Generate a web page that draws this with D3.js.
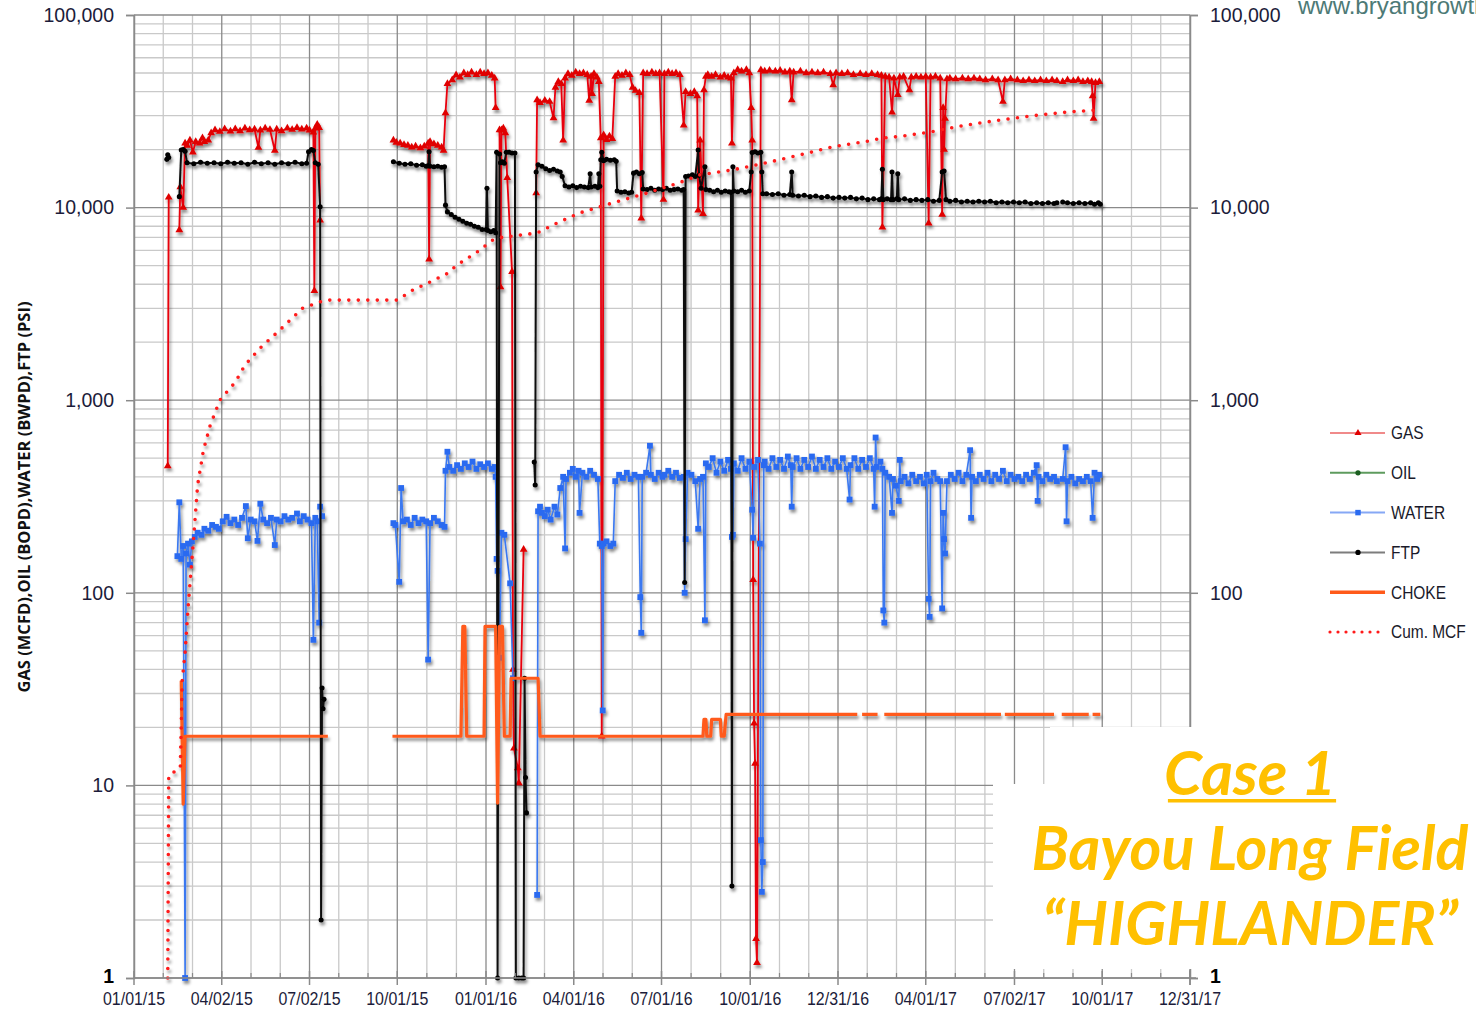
<!DOCTYPE html>
<html><head><meta charset="utf-8">
<script src="https://cdn.jsdelivr.net/npm/d3@7"></script>
<style>body{margin:0;background:#fff}svg{display:block}</style>
</head><body>
<svg id="chart" width="1476" height="1010"></svg>
<script>
// ---------------- DATA ----------------
// day = days after 01/01/15 (first tick of the date axis)
const START = "2015-01-01";
const xTickLabels = ["01/01/15","04/02/15","07/02/15","10/01/15","01/01/16","04/01/16","07/01/16","10/01/16","12/31/16","04/01/17","07/02/17","10/01/17","12/31/17"];
const yTickValues = [1,10,100,1000,10000,100000];
const rightTickValues = [1,100,1000,10000,100000];   // "10" is hidden behind the caption box
const legendNames = ["GAS","OIL","WATER","FTP","CHOKE","Cum. MCF"];

const gasData = [[35,455],[36,11300],[37,null],
[47,7650],[48,12800],[51,10000],[53,21600],[55,21000],[58,22400],[61,19400],[64,22000],[68,21600],[71,23000],[73,22000],[77,22400],[80,24400],[84,25300],[89,24800],[94,25600],[100,24900],[105,25600],[110,25000],[115,25800],[120,25300],[125,25500],[129,20500],[131,25200],[136,25800],[141,25400],[146,19800],[148,25500],[153,25000],[159,25800],[164,25400],[169,26000],[174,25500],[179,25800],[182,25200],[186,24600],[187,3700],[188,25800],[190,27000],[192,26000],[193,8600],[194,null],
[269,22400],[272,21800],[276,21600],[280,21200],[284,21000],[288,20600],[292,20800],[297,20400],[301,20800],[305,21600],[306,5400],[307,22000],[311,21400],[315,21000],[319,20600],[321,19800],[323,31000],[325,44000],[330,46000],[334,48800],[338,47500],[342,50000],[346,49000],[350,50500],[355,49000],[359,50500],[363,49500],[367,50000],[371,48500],[374,47000],[375,33000],[376,null],
[379,25300],[380,3870],[381,25300],[383,25800],[385,24400],[387,14300],[392,4650],[393,40],[394,15.6],[398,12.3],[399,10.3],[404,168],[405,null],
[417,11900],[418,36200],[421,35000],[426,36000],[431,35500],[435,29200],[437,42000],[440,45000],[443,44000],[445,22400],[447,47000],[450,49500],[454,48500],[458,50500],[462,49500],[466,50000],[470,49000],[472,36000],[474,48000],[475,39000],[477,49500],[480,47500],[482,45000],[484,23000],[485,18],[487,23800],[490,22500],[493,23500],[496,22800],[499,48000],[502,49500],[506,48500],[510,50000],[514,49000],[517,42000],[520,40500],[524,39500],[526,8800],[528,50000],[532,49500],[537,50500],[541,49500],[545,50000],[549,11000],[550,49500],[554,50500],[558,49500],[562,50000],[566,49000],[570,26800],[572,40000],[577,39000],[581,40000],[584,38000],[585,9700],[587,22400],[590,9300],[591,40800],[593,48000],[595,49000],[599,48000],[603,49000],[608,47500],[612,48500],[616,47500],[619,47000],[620,21600],[622,50000],[626,52000],[630,51000],[635,52000],[638,50000],[640,33000],[641,22400],[642,117],[643,21],[644,13],[645,1.6],[646,1.2],[650,51800],[654,51000],[659,51500],[665,51000],[670,51500],[675,50500],[680,51000],[682,36200],[684,50500],[691,51000],[697,50000],[703,50500],[709,50000],[715,50500],[722,49500],[725,43300],[728,50000],[734,49500],[740,50000],[746,49000],[753,49500],[759,49000],[765,49500],[771,49000],[775,48500],[776,7900],[779,48000],[783,47500],[786,31300],[788,47000],[792,38500],[794,47500],[798,48000],[804,40800],[806,47500],[811,48000],[816,47500],[821,48000],[824,8300],[826,47500],[831,48000],[836,47000],[838,9200],[839,33000],[840,20000],[841,29000],[843,46500],[846,47000],[852,46500],[859,47000],[865,46500],[871,47000],[877,46500],[883,46000],[890,46500],[896,46000],[901,35500],[903,46000],[909,46500],[916,46000],[922,45500],[928,46000],[934,45500],[940,46000],[946,45500],[952,46000],[957,45500],[958,null],
[963,45000],[968,46000],[974,45500],[979,46000],[984,45000],[989,45500],[993,45000],[994,38000],[995,29000],[997,44500],[1001,45000]];

const oilData = [];

const waterData = [[45,155],[47,295],[49,150],[51,175],[53,1],[54,160],[56,180],[58,140],[60,185],[63,195],[66,205],[70,200],[73,215],[77,210],[81,225],[85,220],[88,215],[92,235],[96,248],[100,230],[104,240],[108,225],[112,245],[116,282],[118,192],[121,240],[125,235],[128,186],[131,290],[134,240],[138,230],[142,245],[146,177],[148,240],[152,235],[156,250],[160,240],[164,245],[169,258],[172,235],[176,250],[180,240],[184,230],[186,57],[188,245],[190,235],[192,70],[193,280],[195,250],[196,null],
[269,230],[271,225],[275,114],[277,350],[279,235],[283,240],[287,225],[291,245],[295,230],[299,240],[303,235],[305,45],[307,230],[311,245],[315,235],[319,225],[322,220],[323,430],[325,540],[327,450],[331,430],[335,460],[339,440],[343,470],[347,450],[351,480],[355,440],[359,465],[363,450],[367,470],[371,440],[374,450],[375,400],[376,150],[377,130],[379,46],[381,205],[384,200],[390,112],[393,36],[394,null],
[418,2.7],[419,265],[421,280],[423,260],[426,250],[429,270],[432,240],[436,280],[439,255],[442,350],[445,400],[447,170],[448,390],[452,420],[455,440],[458,400],[461,430],[462,260],[465,420],[469,400],[473,430],[477,410],[481,390],[483,180],[485,175],[486,24.5],[487,180],[490,185],[494,175],[497,180],[499,380],[503,410],[507,395],[511,420],[515,390],[519,410],[523,400],[525,95],[526,62],[527,400],[531,420],[535,580],[536,410],[540,390],[544,420],[548,400],[550,410],[554,430],[558,400],[562,420],[566,395],[570,400],[571,100],[572,190],[574,420],[578,410],[582,380],[585,215],[587,390],[590,400],[592,72],[593,470],[596,450],[600,500],[604,420],[608,480],[612,430],[616,490],[619,440],[620,195],[621,200],[622,470],[626,430],[630,500],[634,440],[638,480],[641,270],[642,193],[643,450],[647,490],[649,180],[650,5.2],[651,2.8],[652,4.0],[653,460],[654,480],[658,440],[662,500],[666,450],[670,490],[674,440],[678,510],[681,460],[682,280],[683,450],[687,500],[691,440],[695,490],[699,450],[703,510],[707,440],[711,490],[715,450],[719,500],[723,440],[727,480],[731,450],[735,500],[739,440],[742,305],[743,460],[747,500],[751,440],[755,490],[759,450],[763,500],[767,440],[768,280],[769,640],[770,450],[774,480],[776,440],[777,81],[778,70],[779,420],[783,400],[786,260],[787,390],[790,360],[793,300],[794,490],[795,380],[799,400],[803,370],[807,410],[811,380],[815,400],[819,370],[822,410],[824,93],[825,75],[826,380],[829,420],[833,390],[836,380],[838,83],[839,260],[840,190],[841,160],[843,380],[847,410],[851,390],[855,420],[859,380],[863,410],[867,550],[868,245],[869,400],[873,380],[877,410],[881,390],[885,420],[889,380],[893,410],[897,390],[901,430],[905,380],[909,410],[913,390],[917,400],[921,380],[925,410],[929,390],[933,420],[936,460],[937,300],[938,400],[942,380],[946,410],[950,390],[954,400],[957,380],[958,null],
[963,390],[966,570],[967,235],[968,380],[972,400],[976,370],[980,390],[984,380],[988,400],[992,380],[994,245],[996,420],[999,390],[1001,410]];

const ftpData = [[34,17800],[35,18800],[36,18200],[37,null],
[47,11400],[49,19900],[51,20000],[53,19600],[55,17100],[62,16900],[69,17200],[76,17000],[83,17100],[90,16900],[97,17200],[104,17000],[111,17100],[118,16800],[125,17200],[132,16900],[139,17100],[146,16800],[153,17100],[160,16900],[167,17200],[174,16900],[179,17000],[181,19500],[184,20000],[186,19800],[188,17100],[191,16800],[193,10100],[194,2.0],[195,32],[196,25],[197,28],[198,null],
[269,17300],[275,17000],[281,16800],[287,16900],[293,16600],[299,16700],[303,16400],[305,16500],[306,19500],[307,16400],[311,16300],[315,16400],[319,16200],[322,16300],[323,10300],[325,9500],[329,9200],[333,8900],[337,8700],[341,8500],[345,8300],[349,8200],[353,8000],[357,7900],[361,7700],[365,7700],[366,12600],[367,7600],[370,7500],[373,7600],[375,7400],[376,19400],[377,1],[379,19000],[380,17100],[382,17300],[384,17000],[386,19400],[389,19400],[392,19200],[395,19200],[396,1],[399,1],[402,1],[404,1],[405,36],[406,11],[407,7.2],[408,null],
[415,477],[416,363],[417,15300],[419,16700],[423,16400],[427,15900],[431,15600],[435,15800],[439,15500],[442,15300],[444,14500],[447,13000],[451,12800],[455,13000],[459,12700],[463,12900],[467,12800],[471,12700],[473,15000],[474,12800],[478,12900],[481,12700],[482,15000],[483,12900],[484,17700],[485,19400],[487,17500],[490,17800],[494,17600],[498,17700],[500,17400],[501,12200],[505,12000],[509,12100],[513,11900],[516,12000],[518,15100],[521,15300],[524,15000],[527,15200],[528,12500],[532,12400],[536,12600],[540,12300],[544,12500],[548,12400],[552,12600],[556,12300],[560,12400],[564,12500],[568,12300],[570,12400],[571,113],[572,14500],[575,14600],[579,14800],[582,14500],[585,19900],[586,14700],[588,12600],[592,16300],[593,12400],[597,12300],[601,12100],[605,12300],[609,12000],[613,12200],[617,12100],[619,12000],[620,3.0],[621,16300],[622,12200],[626,12100],[630,12300],[634,12000],[638,12200],[640,15300],[641,19300],[644,19500],[647,19200],[650,19400],[651,15300],[652,11800],[656,11800],[662,11700],[668,11800],[674,11600],[680,11700],[682,15300],[683,11600],[689,11500],[695,11600],[701,11400],[707,11500],[713,11300],[719,11400],[725,11200],[731,11300],[737,11200],[743,11300],[749,11100],[755,11200],[761,11000],[767,11100],[773,11000],[775,11100],[776,15800],[777,11000],[781,11100],[785,11000],[786,15300],[787,11000],[791,11100],[792,15000],[793,11000],[799,11100],[805,10900],[811,11000],[817,10900],[823,11000],[829,10800],[835,10900],[838,15300],[840,15500],[842,11000],[846,10800],[852,10900],[858,10700],[864,10800],[870,10700],[876,10800],[882,10700],[888,10800],[894,10600],[900,10700],[906,10600],[912,10700],[918,10600],[924,10700],[930,10500],[936,10600],[942,10500],[948,10600],[954,10500],[957,10600],[958,null],
[963,10700],[968,10600],[974,10500],[980,10600],[986,10500],[992,10600],[996,10400],[1000,10600],[1002,10400]];

const chokeData = [[49,35],[51,8],[53,18],[201,18],[202,null],
[268,18],[339,18],[341,67],[343,67],[345,18],[363,18],[364,67],[375,67],[377,8.1],[379,67],[382,67],[384,18],[390,18],[391,36],[419,36],[421,18],[590,18],[591,22],[593,22],[594,18],[598,18],[599,22],[608,22],[609,18],[612,18],[614,23.4],[750,23.4],[751,null],[755,23.4],[771,23.4],[772,null],[778,23.4],[899,23.4],[900,null],[903,23.4],[954,23.4],[955,null],[962,23.4],[990,23.4],[991,null],[994,23.4],[1002,23.4]];

const cumData = [[35,1],[36,11.3],[48,12.3],[50,35],[53,49],[56,83],[60,148],[63,230],[66,363],[72,550],[79,740],[89,1000],[105,1240],[115,1520],[131,1870],[151,2310],[175,3010],[193,3240],[203,3310],[273,3310],[289,3730],[307,4110],[325,4550],[335,5040],[356,5890],[372,6790],[380,6990],[418,7380],[439,8330],[462,9380],[497,10600],[532,11900],[566,13500],[587,14800],[621,15700],[656,17100],[691,18800],[725,20700],[760,22100],[777,23000],[794,23400],[828,24800],[846,25900],[863,26800],[898,28500],[932,30000],[967,31300],[994,32000],[1001,32300]];

const annotationLines = ["Case 1","Bayou Long Field","\u201CHIGHLANDER\u201D"];
const watermark = "www.bryangrowth.com";
const yTitle = "GAS (MCFD),OIL (BOPD),WATER (BWPD),FTP (PSI)";

// ---------------- CHART ----------------
const svg = d3.select("#chart");
const W = 1476, H = 1010;
const L = 134, R = 1190, T = 15, B = 978;
const parseTick = d3.timeParse("%m/%d/%y");
const start = d3.timeParse("%Y-%m-%d")(START);
const toDate = d => d3.timeDay.offset(start, d);
const tickDates = xTickLabels.map(parseTick);
const x = d3.scaleTime().domain([tickDates[0], tickDates[tickDates.length-1]]).range([L, R]);
const y = d3.scaleLog().domain([1, 100000]).range([B, T]);
const FONT = "Liberation Sans, Arial, sans-serif";

const defs = svg.append("defs");
const f = defs.append("filter").attr("id","shadow").attr("filterUnits","userSpaceOnUse")
  .attr("x",0).attr("y",0).attr("width",W).attr("height",H);
f.append("feDropShadow").attr("dx",1.5).attr("dy",3).attr("stdDeviation",1.6)
  .attr("flood-color","#000").attr("flood-opacity",0.45);

svg.append("rect").attr("width",W).attr("height",H).attr("fill","#fff");

// grid
const grid = svg.append("g");
const minorY = [];
for (let k = 0; k < 5; k++) for (let m = 2; m <= 9; m++) minorY.push(m * Math.pow(10, k));
grid.selectAll(".hmin").data(minorY).join("line")
  .attr("x1",L).attr("x2",R).attr("y1",d=>y(d)).attr("y2",d=>y(d))
  .attr("stroke","#c9c9c9").attr("stroke-width",1.3);
const minorX = [];
for (let i = 0; i < tickDates.length-1; i++) {
  const a = x(tickDates[i]), b = x(tickDates[i+1]);
  minorX.push(a + (b-a)/3, a + 2*(b-a)/3);
}
grid.selectAll(".vmin").data(minorX).join("line")
  .attr("x1",d=>d).attr("x2",d=>d).attr("y1",T).attr("y2",B)
  .attr("stroke","#c9c9c9").attr("stroke-width",1.3);
grid.selectAll(".hmaj").data(yTickValues).join("line")
  .attr("x1",L).attr("x2",R).attr("y1",d=>y(d)).attr("y2",d=>y(d))
  .attr("stroke","#8a8a8a").attr("stroke-width",1.3);
grid.selectAll(".vmaj").data(tickDates).join("line")
  .attr("x1",d=>x(d)).attr("x2",d=>x(d)).attr("y1",T).attr("y2",B)
  .attr("stroke","#8a8a8a").attr("stroke-width",1.3);

// left / right axis
const axL = svg.append("g").attr("transform",`translate(${L},0)`)
  .call(d3.axisLeft(y).tickValues(yTickValues).tickFormat(d3.format(",")).tickSize(8).tickPadding(12));
const axR = svg.append("g").attr("transform",`translate(${R},0)`)
  .call(d3.axisRight(y).tickValues(rightTickValues).tickFormat(d3.format(",")).tickSize(8).tickPadding(12));
[axL, axR].forEach(a => {
  a.select(".domain").attr("stroke","#8a8a8a").attr("stroke-width",1.5);
  a.selectAll(".tick line").attr("stroke","#8a8a8a").attr("stroke-width",1.5);
  a.selectAll("text").attr("font-family",FONT).attr("font-size",19.5).attr("fill","#1c1c3a");
});
axL.selectAll(".tick").filter(d=>d===1).select("text").attr("dy","0.25em").attr("x",-20).attr("font-weight","bold").attr("fill","#000");
axR.selectAll(".tick").filter(d=>d===1).select("text").attr("dy","0.25em").attr("font-weight","bold").attr("fill","#000");

// series
const line = d3.line().defined(d=>d[1]!=null).x(d=>x(toDate(d[0]))).y(d=>y(d[1]));
const dataG = svg.append("g").attr("filter","url(#shadow)");
function drawSeries(data, color, width, symbol, size, mcolor) {
  const g = dataG.append("g");
  g.append("path").datum(data).attr("d",line).attr("fill","none")
    .attr("stroke",color).attr("stroke-width",width).attr("stroke-linejoin","round");
  if (symbol) {
    g.selectAll("path.m").data(data.filter(d=>d[1]!=null)).join("path").attr("class","m")
      .attr("transform",d=>`translate(${x(toDate(d[0]))},${y(d[1])})`)
      .attr("d",d3.symbol().type(symbol).size(size)).attr("fill",mcolor||color);
  }
  return g;
}
drawSeries(gasData, "#e8000b", 1.8, d3.symbolTriangle, 26, "#e00000");
drawSeries(oilData, "#2e7d32", 1.6, d3.symbolCircle, 18, "#1b5e20");
drawSeries(waterData, "#3a78f0", 1.6, d3.symbolSquare, 34, "#2a6af0");
drawSeries(ftpData, "#111", 2.0, d3.symbolCircle, 20, "#000");
drawSeries(chokeData, "#ff5a1a", 3.2, null);
dataG.append("path").datum(cumData).attr("d",line).attr("fill","none")
  .attr("stroke","#ff1a1a").attr("stroke-width",3.6).attr("stroke-linecap","round")
  .attr("stroke-dasharray","0 9.5");

// white caption boxes
svg.append("rect").attr("x",1050).attr("y",727).attr("width",W-1050).attr("height",242).attr("fill","#fff");
svg.append("rect").attr("x",993).attr("y",784).attr("width",W-993).attr("height",185).attr("fill","#fff");

// bottom axis
const axB = svg.append("g").attr("transform",`translate(0,${B})`);
axB.append("line").attr("x1",L).attr("x2",R+6).attr("stroke","#8a8a8a").attr("stroke-width",1.5);
axB.selectAll(".mt").data(tickDates).join("line")
  .attr("x1",d=>x(d)).attr("x2",d=>x(d)).attr("y1",-7).attr("y2",7).attr("stroke","#8a8a8a").attr("stroke-width",1.5);
axB.selectAll(".nt").data(minorX).join("line")
  .attr("x1",d=>d).attr("x2",d=>d).attr("y1",-5).attr("y2",0).attr("stroke","#8a8a8a").attr("stroke-width",1.2);
axB.selectAll("text").data(xTickLabels).join("text")
  .attr("transform",(d,i)=>`translate(${x(tickDates[i])},27) scale(0.84,1)`).attr("text-anchor","middle")
  .attr("font-family",FONT).attr("font-size",19).attr("fill","#1c1c3a").text(d=>d);
svg.append("line").attr("x1",R).attr("x2",R).attr("y1",970).attr("y2",B+7).attr("stroke","#8a8a8a").attr("stroke-width",1.5);

// y title
svg.append("text").attr("transform","translate(30,497) rotate(-90)").attr("text-anchor","middle")
  .attr("font-family","Open Sans, Liberation Sans, sans-serif").attr("font-weight","bold")
  .attr("font-size",16.5).attr("fill","#111").text(yTitle);

// legend
const legend = svg.append("g").attr("transform","translate(1330,433)");
const lg = legendNames.map((n,i)=>({n,i}));
const lgi = legend.selectAll("g").data(lg).join("g").attr("transform",d=>`translate(0,${d.i*39.8})`);
const lcol = ["#f08a8a","#5e9b5e","#86a8f5","#7d7d7d","#ff5a1a","#ff1a1a"];
lgi.append("line").attr("x1",0).attr("x2",55).attr("stroke",d=>lcol[d.i])
  .attr("stroke-width",d=>d.i===4?3.5:(d.i===5?3.2:2))
  .attr("stroke-linecap",d=>d.i===5?"round":"butt")
  .attr("stroke-dasharray",d=>d.i===5?"0 8":null);
const lsym = [d3.symbolTriangle,d3.symbolCircle,d3.symbolSquare,d3.symbolCircle,null,null];
const lmc = ["#e00000","#1b5e20","#2a6af0","#000"];
lgi.filter(d=>lsym[d.i]).append("path").attr("transform","translate(28,0)")
  .attr("d",d=>d3.symbol().type(lsym[d.i]).size(d.i===2?30:22)()).attr("fill",d=>lmc[d.i]);
lgi.append("text").attr("transform","translate(61,0) scale(0.86,1)").attr("dy","0.36em")
  .attr("font-family",FONT).attr("font-size",18).attr("fill","#1a1a2a").text(d=>d.n);

// caption
const ann = svg.append("g").attr("font-family","Lato, Open Sans, sans-serif").attr("font-weight","bold")
  .attr("font-style","italic").attr("fill","#ffc000").attr("text-anchor","middle").attr("font-size",61);
const ys = [795, 870, 945];
annotationLines.forEach((t,i)=>{
  const tx = ann.append("text").attr("x",1250).attr("y",ys[i]).text(t);
  if (i===0) {
    const bb = tx.node().getBBox();
    ann.append("rect").attr("x",bb.x+4).attr("y",ys[i]+4).attr("width",bb.width-4).attr("height",3.5).attr("fill","#ffc000");
  }
});

// watermark (cut by the top edge in the reference too)
svg.append("text").attr("x",1298).attr("y",14).attr("font-family",FONT)
  .attr("font-size",24).attr("fill","#4d7a76").text(watermark);
</script>
</body></html>
